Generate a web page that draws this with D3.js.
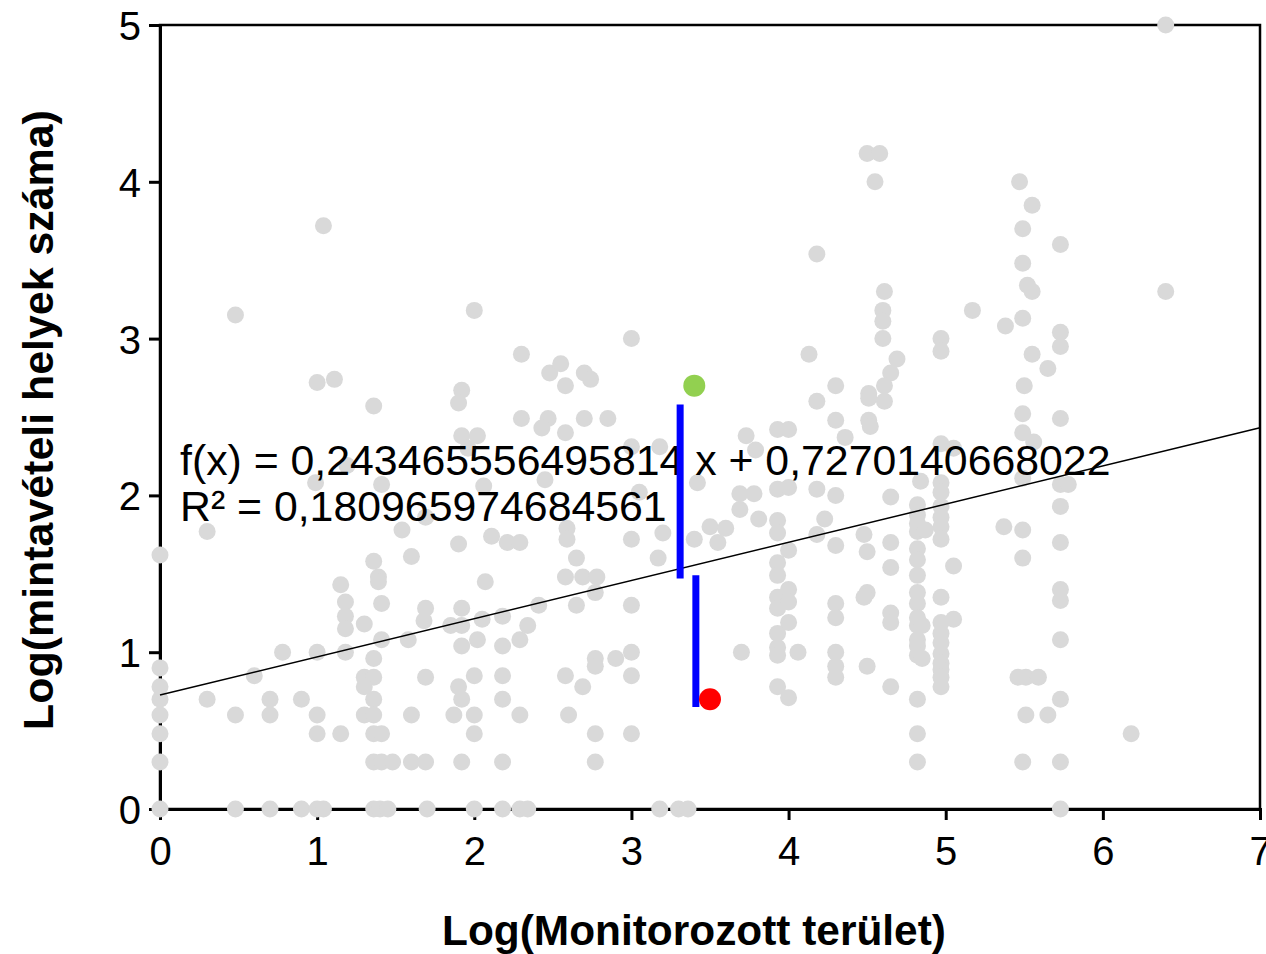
<!DOCTYPE html>
<html>
<head>
<meta charset="utf-8">
<script src="https://cdn.jsdelivr.net/npm/d3@7"></script>
<style>
  body { margin: 0; background: #fff; }
  text { font-family: "Liberation Sans", Arial, sans-serif; }
</style>
</head>
<body>
<div id="chart"></div>
<script>
// grey points: log10(monitored area) vs log10(number of sampling sites)
var logArea = [
  6.40, 6.40, 6.18, 0.48, 1.04, 2.00, 1.00, 1.11, 1.36, 2.30, 2.48, 2.55, 1.92, 1.90, 2.30, 2.47,
  2.58, 2.70, 2.74, 3.00, 2.43, 2.58, 2.70, 2.85, 1.92, 2.02, 1.96, 3.00, 3.18, 3.73, 3.79, 3.42,
  3.69, 3.78, 3.69, 3.81, 3.50, 3.60, 3.40, 3.55, 3.20, 3.00, 2.59, 2.59, 2.11, 2.21, 2.29, 0.99,
  1.41, 1.19, 0.30, 1.54, 1.69, 1.90, 2.06, 2.45, 3.05,
  // 4 - 5
  4.50, 4.58, 4.55, 4.18, 4.61, 4.60, 4.60, 4.60, 4.97, 4.97, 4.13, 4.69, 4.65, 4.61, 4.51, 4.51,
  4.61, 4.30, 4.18, 3.93, 4.00, 4.30, 4.51, 4.52, 4.36, 4.97, 5.05, 4.84, 4.65, 4.30, 4.18, 3.93,
  4.00, 4.23, 4.18, 3.93, 3.93, 4.48, 4.65,
  // around 5.5
  5.47, 5.55, 5.49, 5.73, 5.49, 5.52, 5.55, 5.17, 5.38, 5.49, 5.73, 5.73, 5.55, 5.65, 5.50, 5.49,
  5.73, 5.49, 5.56, 5.49, 5.73, 5.78, 5.73, 5.37, 5.49, 5.73, 5.49, 5.73, 5.73, 5.73, 5.46, 5.51,
  5.59, 5.73, 5.51, 5.65, 5.49, 5.73, 5.73,
  // column at 4.82
  4.82, 4.82, 4.82, 4.82, 4.82, 4.82, 4.82, 4.82, 4.82, 4.82, 4.82, 4.82, 4.82, 4.82, 4.82, 4.82,
  4.82, 4.87, 4.85, 4.85,
  // column at 4.97
  4.97, 4.97, 4.97, 4.97, 4.97, 4.97, 4.97, 4.97, 4.97, 4.97, 4.97, 4.97, 4.97, 4.97, 4.97, 5.05,
  5.05,
  // columns 3.9 - 4.7
  3.93, 3.93, 3.93, 3.93, 3.93, 3.93, 3.93, 3.93, 4.00, 4.00, 4.00, 4.00, 4.00, 4.06, 4.30, 4.30,
  4.30, 4.30, 4.30, 4.30, 4.50, 4.50, 4.50, 4.48, 4.65, 4.65, 4.65, 4.65, 3.70,
  // left part
  0, 0, 0, 0, 0, 0, 0, 0,
  0.30, 0.48, 0.60, 0.70, 0.70, 0.78, 0.90, 1.00, 1.00, 1.00, 1.15, 1.15, 1.18, 1.18, 1.18, 1.18,
  1.30, 1.36, 1.39, 1.39, 1.41, 1.41, 1.36, 1.30, 1.36, 1.30, 1.36, 1.30, 1.36, 1.36, 1.41, 1.36,
  1.41, 1.48, 1.60, 1.69, 1.92, 1.60, 1.58, 1.69, 1.68, 1.69, 1.60, 1.85, 1.92, 1.92, 1.92, 1.90,
  1.92, 1.87,
  // on the x axis
  0.48, 0.70, 0.90, 1.00, 1.04, 1.36, 1.40, 1.45, 1.70, 2.00, 2.18, 2.29, 2.34, 3.18, 3.30, 3.36,
  // middle
  2.07, 2.58, 2.69, 2.78, 2.77, 2.65, 3.17, 2.65, 3.00, 2.41, 2.18, 2.05, 2.34, 2.02, 2.18, 2.29,
  2.77, 2.77, 2.90, 3.00, 2.00, 2.18, 2.58, 3.00, 2.69, 2.18, 2.00, 2.29, 2.60, 2.00, 2.77, 3.00,
  2.18, 2.77
];
var logSites = [
  5.00, 3.30, 0.48, 3.15, 3.72, 3.18, 2.72, 2.74, 2.57, 2.90, 2.78, 2.84, 2.67, 2.59, 2.49, 2.49,
  2.70, 2.78, 2.74, 3.00, 2.43, 2.40, 2.49, 2.49, 2.38, 2.38, 2.30, 2.31, 2.31, 2.38, 2.29, 2.08,
  2.01, 2.01, 1.91, 1.85, 1.80, 1.79, 1.72, 1.70, 1.76, 1.72, 1.79, 1.72, 1.74, 1.70, 1.70, 2.08,
  2.07, 2.19, 1.77, 1.78, 1.86, 1.69, 2.06, 2.10, 2.02,
  // 4 - 5
  4.18, 4.18, 4.00, 3.54, 3.30, 3.18, 3.11, 3.00, 3.00, 2.92, 2.90, 2.87, 2.78, 2.70, 2.65, 2.62,
  2.60, 2.70, 2.60, 2.42, 2.42, 2.48, 2.48, 2.44, 2.37, 2.33, 2.30, 2.09, 1.99, 2.00, 2.04, 2.04,
  2.05, 1.85, 1.75, 1.84, 1.76, 1.75, 1.70,
  // around 5.5
  4.00, 3.85, 3.70, 3.60, 3.48, 3.34, 3.30, 3.18, 3.08, 3.13, 3.04, 2.95, 2.90, 2.81, 2.70, 2.52,
  2.49, 2.40, 2.34, 2.11, 2.07, 2.07, 1.93, 1.80, 1.78, 1.70, 1.60, 1.40, 1.33, 1.08, 0.84, 0.84,
  0.84, 0.70, 0.60, 0.60, 0.30, 0.30, 0.00,
  // column at 4.82
  1.94, 1.875, 1.82, 1.77, 1.66, 1.59, 1.49, 1.38, 1.31, 1.22, 1.17, 1.08, 1.04, 0.98, 0.70, 0.48,
  0.30, 1.78, 1.17, 0.96,
  // column at 4.97
  2.08, 2.02, 1.93, 1.86, 1.80, 1.72, 1.35, 1.19, 1.12, 1.06, 0.99, 0.93, 0.89, 0.84, 0.78, 1.55,
  1.21,
  // columns 3.9 - 4.7
  1.57, 1.49, 1.35, 1.28, 1.12, 1.03, 0.98, 0.78, 1.65, 1.40, 1.32, 1.19, 0.71, 1.00, 1.68, 1.31,
  1.22, 1.00, 0.91, 0.84, 1.64, 1.38, 0.91, 1.35, 1.54, 1.25, 1.19, 0.78, 1.00,
  // left part
  1.62, 0.90, 0.78, 0.70, 0.60, 0.48, 0.30, 0,
  0.70, 0.60, 0.85, 0.70, 0.60, 1.00, 0.70, 1.00, 0.60, 0.48, 0.48, 1.43, 1.32, 1.23, 1.15, 1.00,
  1.18, 1.58, 1.48, 1.45, 1.31, 1.08, 0.96, 0.84, 0.84, 0.78, 0.70, 0.60, 0.60, 0.48, 0.48, 0.30,
  0.30, 0.30, 0.30, 0.30, 0.30, 1.61, 1.08, 1.28, 1.20, 0.84, 0.60, 1.17, 1.17, 1.28, 1.04, 0.78,
  0.70, 0.60,
  // on the x axis
  0, 0, 0, 0, 0, 0, 0, 0, 0, 0, 0, 0, 0, 0, 0, 0,
  // middle
  1.45, 1.48, 1.48, 1.48, 1.38, 1.60, 1.60, 1.30, 1.30, 1.30, 1.23, 1.21, 1.17, 1.08, 1.04, 1.08,
  0.96, 0.91, 0.96, 1.00, 0.85, 0.85, 0.85, 0.85, 0.78, 0.70, 0.60, 0.60, 0.60, 0.48, 0.48, 0.48,
  0.30, 0.30
];

// highlighted observations and their residual bars
var highPoint = [3.40, 2.70];
var lowPoint = [3.50, 0.70];
var residualBars = [[3.31, 2.58, 1.47], [3.41, 1.49, 0.65]];

// trend line
var slope = 0.243465556495814, intercept = 0.7270140668022;
var eqLines = ["f(x) = 0,243465556495814 x + 0,7270140668022", "R\u00b2 = 0,180965974684561"];

var xTicks = [0, 1, 2, 3, 4, 5, 6, 7];
var yTicks = [0, 1, 2, 3, 4, 5];

var margin = {top: 25, right: 6, bottom: 145, left: 160};
var width = 1100, height = 784;

var svg = d3.select("#chart").append("svg")
    .attr("width", 1266)
    .attr("height", 954);

var g = svg.append("g")
    .attr("transform", "translate(" + margin.left + "," + margin.top + ")");

var x = d3.scaleLinear().domain([0, 7]).range([0, width]);
var y = d3.scaleLinear().domain([0, 5]).range([height, 0]);

// frame
g.append("rect")
    .attr("width", width)
    .attr("height", height)
    .attr("fill", "none")
    .attr("stroke", "#000")
    .attr("stroke-width", 2.5);

var xAxis = g.append("g")
    .attr("transform", "translate(0," + height + ")")
    .call(d3.axisBottom(x).tickValues(xTicks).tickSize(11).tickPadding(8).tickFormat(d3.format("d")));
var yAxis = g.append("g")
    .call(d3.axisLeft(y).tickValues(yTicks).tickSize(11).tickPadding(8).tickFormat(d3.format("d")));

[xAxis, yAxis].forEach(function (a) {
    a.select(".domain").attr("stroke-width", 3);
    a.selectAll(".tick line").attr("stroke-width", 3);
    a.selectAll(".tick text")
        .attr("font-family", "Liberation Sans, Arial, sans-serif")
        .attr("font-size", 40)
        .attr("fill", "#000");
});
xAxis.selectAll(".tick text").attr("dy", "0.92em");
yAxis.selectAll(".tick text").attr("dy", "0.36em");

// grey points
var pts = d3.range(logArea.length).map(function (i) { return [logArea[i], logSites[i]]; });
g.append("g").selectAll("circle")
    .data(pts)
    .enter().append("circle")
    .attr("cx", function (d) { return x(d[0]); })
    .attr("cy", function (d) { return y(d[1]); })
    .attr("r", 8.5)
    .attr("fill", "#d9d9d9");

// regression line
g.append("line")
    .attr("x1", x(0)).attr("y1", y(intercept))
    .attr("x2", x(7)).attr("y2", y(intercept + slope * 7))
    .attr("stroke", "#000")
    .attr("stroke-width", 1.5);

// equation
g.append("g").selectAll("text")
    .data(eqLines)
    .enter().append("text")
    .attr("x", 20)
    .attr("y", function (d, i) { return 450 + i * 46; })
    .attr("font-size", 42.8)
    .attr("fill", "#000")
    .text(function (d) { return d; });

// residual bars
g.append("g").selectAll("line")
    .data(residualBars)
    .enter().append("line")
    .attr("x1", function (d) { return x(d[0]); })
    .attr("x2", function (d) { return x(d[0]); })
    .attr("y1", function (d) { return y(d[1]); })
    .attr("y2", function (d) { return y(d[2]); })
    .attr("stroke", "#0000ff")
    .attr("stroke-width", 7);

g.append("circle")
    .attr("cx", x(highPoint[0])).attr("cy", y(highPoint[1]))
    .attr("r", 11).attr("fill", "#92d050");
g.append("circle")
    .attr("cx", x(lowPoint[0])).attr("cy", y(lowPoint[1]))
    .attr("r", 11).attr("fill", "#ff0000");

// axis titles
svg.append("text")
    .attr("x", 694)
    .attr("y", 945)
    .attr("text-anchor", "middle")
    .attr("font-size", 42.4)
    .attr("font-weight", "bold")
    .text("Log(Monitorozott terület)");

svg.append("text")
    .attr("transform", "translate(53," + 420 + ") rotate(-90)")
    .attr("text-anchor", "middle")
    .attr("font-size", 42.9)
    .attr("font-weight", "bold")
    .text("Log(mintavételi helyek száma)");
</script>
</body>
</html>
